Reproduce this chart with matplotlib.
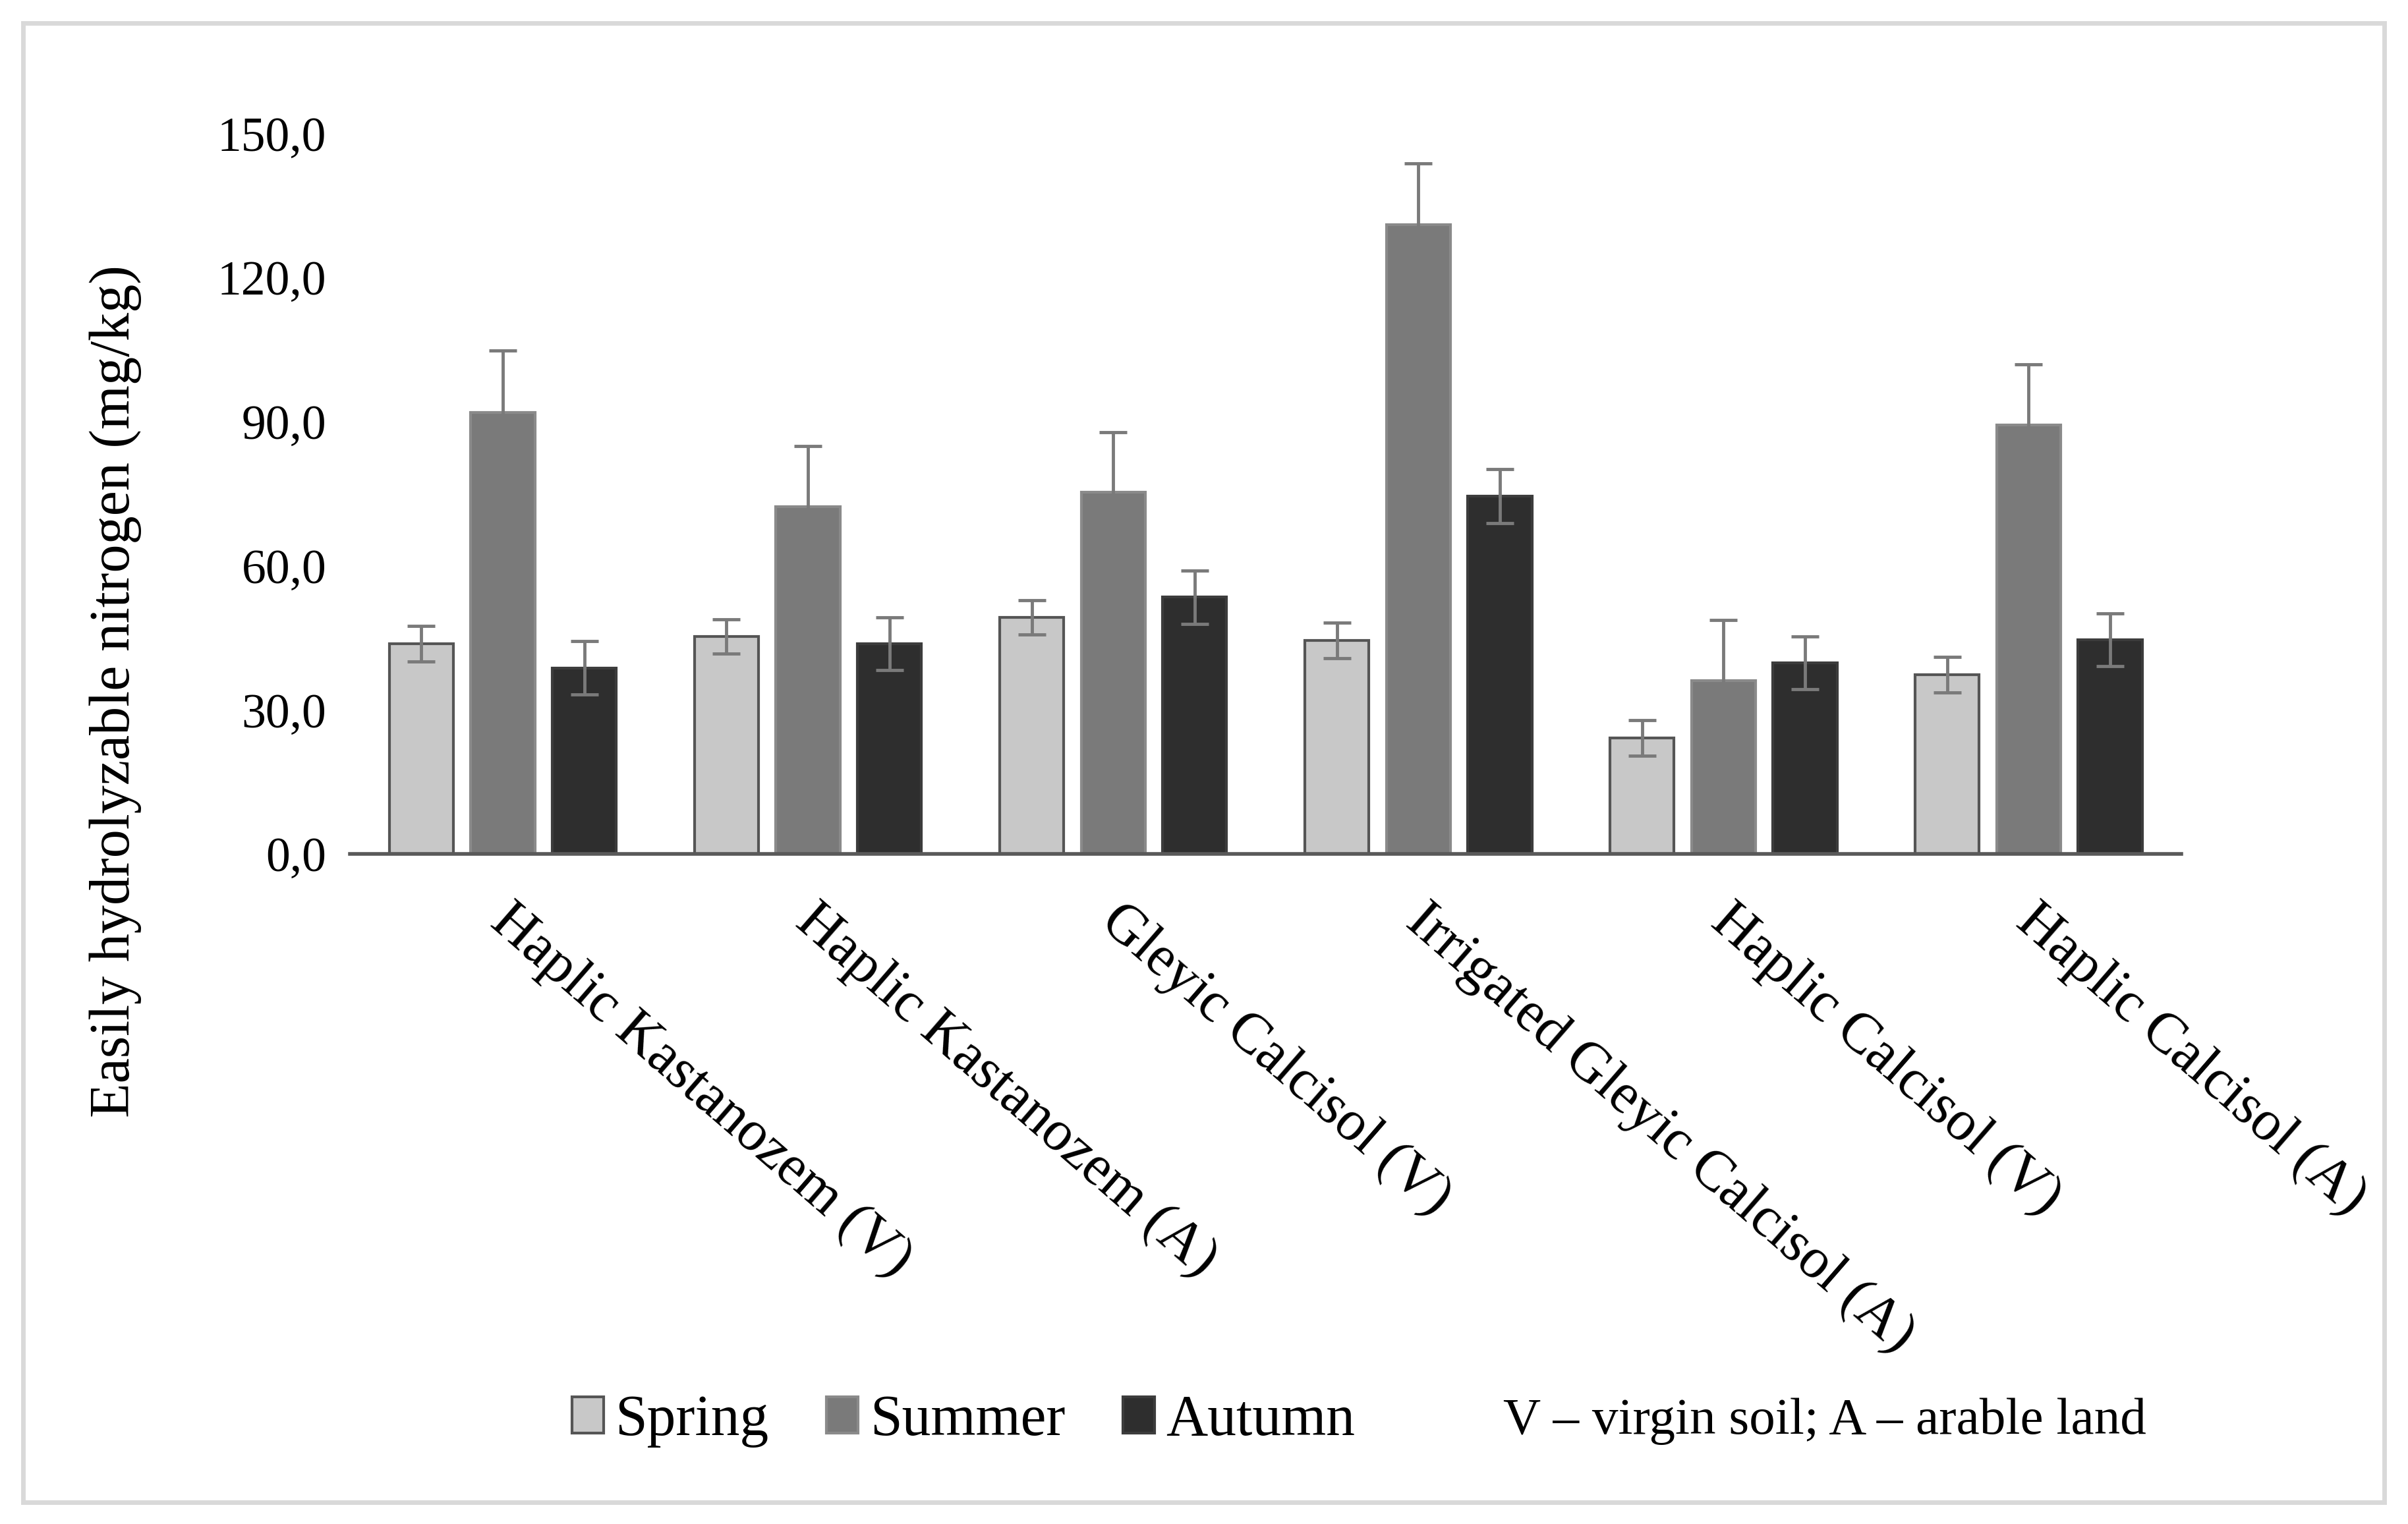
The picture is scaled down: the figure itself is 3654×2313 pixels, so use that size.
import numpy as np
import matplotlib; matplotlib.use("Agg")
import matplotlib.pyplot as plt
from matplotlib.patches import Rectangle, Patch

plt.rcParams["font.family"] = ["Liberation Serif", "DejaVu Serif"]

soils = ["Haplic Kastanozem (V)", "Haplic Kastanozem (A)", "Gleyic Calcisol (V)",
         "Irrigated Gleyic Calcisol (A)", "Haplic Calcisol (V)", "Haplic Calcisol (A)"]
seasons = ["Spring", "Summer", "Autumn"]
spring = [43.8, 45.3, 49.3, 44.5, 24.2, 37.4]
summer = [92.0, 72.3, 75.3, 131.0, 36.1, 89.3]
autumn = [38.8, 43.8, 53.5, 74.5, 39.8, 44.6]
spring_err = [3.7, 3.6, 3.6, 3.7, 3.7, 3.7]
summer_err = [12.8, 12.6, 12.6, 12.8, 12.7, 12.7]
autumn_err = [5.6, 5.5, 5.6, 5.6, 5.5, 5.5]
yticks = [0, 30, 60, 90, 120, 150]
ytick_labels = ["0,0", "30,0", "60,0", "90,0", "120,0", "150,0"]

fills = ["#c8c8c8", "#7a7a7a", "#2e2e2e"]
edges = ["#555555", "#8a8a8a", "#3c3c3c"]

fig = plt.figure(figsize=(36.55, 23.13), dpi=100)
ax = fig.add_axes([0.1454, 0.4395, 0.7602, 0.4728])

x = np.arange(len(soils))
w, step = 0.21, 0.267
for i, (vals, errs) in enumerate(zip([spring, summer, autumn],
                                     [spring_err, summer_err, autumn_err])):
    ax.bar(x + (i - 1)*step, vals, w, color=fills[i], edgecolor=edges[i], lw=3,
           yerr=errs, error_kw=dict(ecolor="#7a7a7a", elinewidth=3.5,
                                    capsize=15, capthick=3.5), zorder=2)

ax.set_xlim(-0.5, len(soils) - 0.5)
ax.set_ylim(0, 150)
ax.set_yticks(yticks)
ax.set_yticklabels(ytick_labels, fontsize=53)
ax.set_xticks(x)
ax.set_xticklabels(soils, rotation=-41, ha="left", va="top",
                   rotation_mode="anchor", fontsize=62)
ax.tick_params(axis="both", length=0)
ax.tick_params(axis="x", pad=44)
ax.tick_params(axis="y", pad=26)
for s in ["top", "right", "left"]:
    ax.spines[s].set_visible(False)
ax.spines["bottom"].set_color("#595959")
ax.spines["bottom"].set_linewidth(4)
# nudge the slanted category labels a little to the right, as in the original
from matplotlib.transforms import ScaledTranslation
for lab in ax.get_xticklabels():
    lab.set_transform(lab.get_transform() + ScaledTranslation(0.18, 0, fig.dpi_scale_trans))

fig.text(0.048, 1 - 450/992, "Easily hydrolyzable nitrogen (mg/kg)",
         rotation=90, ha="center", va="center", fontsize=62)

handles = [Patch(facecolor=fills[i], edgecolor=edges[i], lw=3) for i in range(3)]
fig.legend(handles, seasons, loc="center", bbox_to_anchor=(0.40, 0.0675),
           ncol=3, frameon=False, fontsize=63, handlelength=0.55,
           handleheight=0.6, handletextpad=0.2, columnspacing=1.0)
fig.text(0.7575, 0.0675, "V \u2013 virgin soil; A \u2013 arable land",
         ha="center", va="center", fontsize=57)

fig.patches.append(Rectangle((15/1568, 1 - 978/992), 1537/1568, 963/992,
                             transform=fig.transFigure, fill=False,
                             edgecolor="#d9d9d9", lw=5))

fig.savefig("out.png", dpi=100)
